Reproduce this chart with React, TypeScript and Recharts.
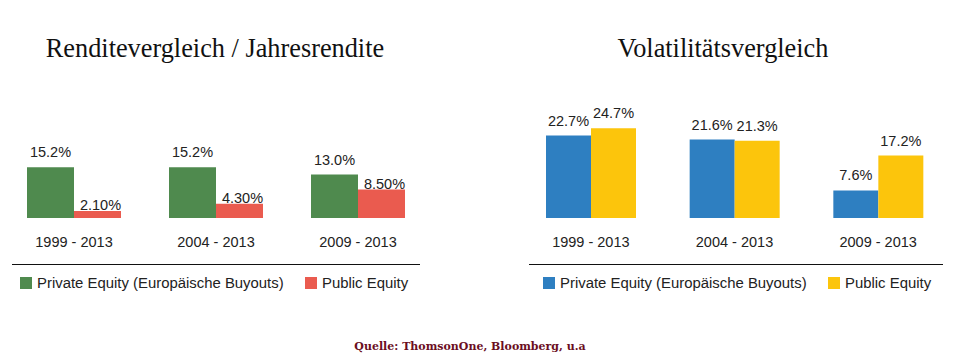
import { BarChart, Bar, XAxis, YAxis, LabelList, Legend } from "recharts";

const periods = ["1999 - 2013", "2004 - 2013", "2009 - 2013"];
const renditePrivate = [15.2, 15.2, 13.0];
const renditePublic = [2.1, 4.3, 8.5];
const renditePrivateLabels = ["15.2%", "15.2%", "13.0%"];
const renditePublicLabels = ["2.10%", "4.30%", "8.50%"];
const volaPrivate = [22.7, 21.6, 7.6];
const volaPublic = [24.7, 21.3, 17.2];
const volaPrivateLabels = ["22.7%", "21.6%", "7.6%"];
const volaPublicLabels = ["24.7%", "21.3%", "17.2%"];

const SANS = "Arial, 'Liberation Sans', sans-serif";
const TITLE_SERIF = "'Palatino Linotype', 'Liberation Serif', serif";
const SERIF = "'DejaVu Serif', serif";

const renditeData = periods.map((p, i) => ({
  period: p,
  priv: renditePrivate[i],
  pub: renditePublic[i],
  privLabel: renditePrivateLabels[i],
  pubLabel: renditePublicLabels[i],
}));

const volaData = periods.map((p, i) => ({
  period: p,
  priv: volaPrivate[i],
  pub: volaPublic[i],
  privLabel: volaPrivateLabels[i],
  pubLabel: volaPublicLabels[i],
}));

type LegendItem = { name: string; color: string; left: number };

function makeLegend(lineLeft: number, lineWidth: number, items: LegendItem[]) {
  return () => (
    <div style={{ position: "relative", width: lineLeft + lineWidth, height: 34 }}>
      <div
        style={{
          position: "absolute",
          left: lineLeft,
          top: 0,
          width: lineWidth,
          height: 1,
          background: "#111",
        }}
      />
      {items.map((it) => (
        <div
          key={it.name}
          style={{
            position: "absolute",
            left: it.left,
            top: 11,
            display: "flex",
            alignItems: "center",
            fontFamily: SANS,
            fontSize: 14.9,
            color: "#222",
            whiteSpace: "nowrap",
          }}
        >
          <span style={{ width: 12, height: 12, background: it.color, marginRight: 5 }} />
          {it.name}
        </div>
      ))}
    </div>
  );
}

export default function App() {
  const labelStyle = { fontFamily: SANS, fontSize: 14.5, fill: "#222" };
  const titleStyle = {
    position: "absolute" as const,
    top: 34,
    textAlign: "center" as const,
    fontFamily: TITLE_SERIF,
    fontSize: 26.3,
    color: "#111",
  };
  return (
    <div
      style={{
        position: "absolute",
        left: 0,
        top: 0,
        width: 958,
        height: 356,
        background: "#fff",
        overflow: "hidden",
      }}
    >
      <div style={{ ...titleStyle, left: 0, width: 430 }}>Renditevergleich / Jahresrendite</div>
      <div style={{ ...titleStyle, left: 519, width: 408 }}>Volatilitätsvergleich</div>

      <div style={{ position: "absolute", left: 0, top: 80 }}>
        <BarChart
          width={432}
          height={220}
          data={renditeData}
          margin={{ top: 0, right: 3, bottom: 0, left: 3 }}
          barGap={0}
          barCategoryGap={24}
        >
          <XAxis
            dataKey="period"
            axisLine={false}
            tickLine={false}
            tickSize={0}
            tickMargin={19}
            height={48}
            tick={{ fontFamily: SANS, fontSize: 14.5, fill: "#222" }}
          />
          <YAxis hide domain={[0, 41.3]} />
          <Legend
            verticalAlign="bottom"
            align="left"
            wrapperStyle={{ left: 0, top: 184, width: 432 }}
            content={makeLegend(12, 408, [
              { name: "Private Equity (Europäische Buyouts)", color: "#4f8a4e", left: 20 },
              { name: "Public Equity", color: "#ea5b4f", left: 305 },
            ])}
          />
          <Bar dataKey="priv" fill="#4f8a4e" isAnimationActive={false}>
            <LabelList dataKey="privLabel" position="top" offset={10} style={labelStyle} />
          </Bar>
          <Bar dataKey="pub" fill="#ea5b4f" isAnimationActive={false}>
            <LabelList dataKey="pubLabel" position="top" offset={1} dx={3} style={labelStyle} />
          </Bar>
        </BarChart>
      </div>

      <div style={{ position: "absolute", left: 517, top: 80 }}>
        <BarChart
          width={435}
          height={220}
          data={volaData}
          margin={{ top: 0, right: 2, bottom: 0, left: 2 }}
          barGap={0}
          barCategoryGap={27}
        >
          <XAxis
            dataKey="period"
            axisLine={false}
            tickLine={false}
            tickSize={0}
            tickMargin={19}
            height={48}
            tick={{ fontFamily: SANS, fontSize: 14.5, fill: "#222" }}
          />
          <YAxis hide domain={[0, 38]} />
          <Legend
            verticalAlign="bottom"
            align="left"
            wrapperStyle={{ left: 0, top: 184, width: 435 }}
            content={makeLegend(12, 414, [
              { name: "Private Equity (Europäische Buyouts)", color: "#2e7fc1", left: 26 },
              { name: "Public Equity", color: "#fcc50c", left: 311 },
            ])}
          />
          <Bar dataKey="priv" fill="#2e7fc1" isAnimationActive={false}>
            <LabelList dataKey="privLabel" position="top" offset={10} style={labelStyle} />
          </Bar>
          <Bar dataKey="pub" fill="#fcc50c" isAnimationActive={false}>
            <LabelList dataKey="pubLabel" position="top" offset={10} style={labelStyle} />
          </Bar>
        </BarChart>
      </div>

      <div
        style={{
          position: "absolute",
          left: 0,
          width: 940,
          top: 340,
          textAlign: "center",
          fontFamily: SERIF,
          fontSize: 11,
          fontWeight: "bold",
          color: "#6b0e1e",
        }}
      >
        Quelle: ThomsonOne, Bloomberg, u.a
      </div>
    </div>
  );
}
